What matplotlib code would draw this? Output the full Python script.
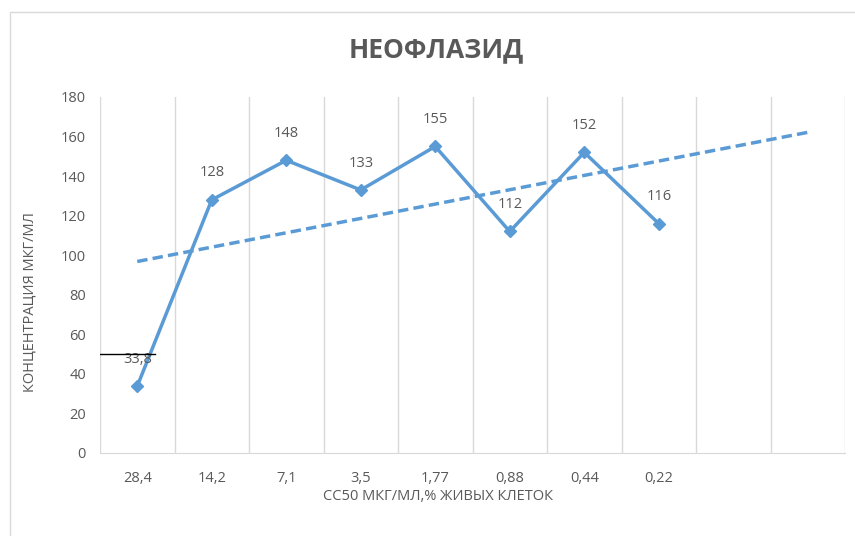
import numpy as np
import matplotlib
matplotlib.use("Agg")
import matplotlib.pyplot as plt
from matplotlib.patches import Rectangle

# data
categories = ["28,4", "14,2", "7,1", "3,5", "1,77", "0,88", "0,44", "0,22", "", ""]
values = [33.8, 128, 148, 133, 155, 112, 152, 116]
labels = ["33,8", "128", "148", "133", "155", "112", "152", "116"]
marker_line_y = 50

blue = "#5B9BD5"
gray = "#595959"

plt.rcParams['font.family'] = ['Open Sans', 'DejaVu Sans']

fig = plt.figure(figsize=(8.55, 5.36), dpi=100)
ax = fig.add_axes([100/855, 83/536, 745/855, 356/536])

# outer chart border
fig.patches.append(Rectangle((10/855, -0.1), 1.1, (524/536) + 0.1, transform=fig.transFigure,
                             fill=False, edgecolor="#D9D9D9", linewidth=1))

x = np.arange(len(values))
ax.plot(x, values, color=blue, linewidth=2.5, marker="D", markersize=6, zorder=3)

# linear trend, forecast two periods forward
k, b = np.polyfit(x, values, 1)
xt = np.arange(len(categories))
ax.plot(xt, k * xt + b, color=blue, linewidth=2.5, linestyle=(0, (3, 1.5)), zorder=2)

for xi, v, lab in zip(x, values, labels):
    ax.annotate(lab, (xi, v), xytext=(0, 14), textcoords="offset points",
                ha="center", va="bottom", fontsize=10.5, color=gray)

# short black line near the first point
ax.plot([-0.5, 0.24], [marker_line_y, marker_line_y], color="black", linewidth=1, zorder=4)

ax.set_xlim(-0.5, len(categories) - 0.5)
ax.set_ylim(0, 180)
ax.set_yticks(range(0, 181, 20))
ax.set_xticks(xt)
ax.set_xticklabels(categories)
for xv in np.arange(-0.5, len(categories), 1):
    ax.axvline(xv, color="#D9D9D9", linewidth=1, zorder=1)

for s in ["top", "right", "left"]:
    ax.spines[s].set_visible(False)
ax.spines["bottom"].set_color("#D9D9D9")
ax.tick_params(axis="both", length=0, colors=gray, labelsize=10.5)
ax.tick_params(axis="x", pad=13)
ax.tick_params(axis="y", pad=10)

fig.text(436/855, 1 - 50/536, "НЕОФЛАЗИД", ha="center", va="center",
         fontsize=19, fontweight="bold", color=gray)
fig.text(30/855, 1 - 302/536, "КОНЦЕНТРАЦИЯ МКГ/МЛ", rotation=90, ha="center", va="center",
         fontsize=10.5, color=gray)
fig.text(438/855, 1 - 497/536, "CC50 МКГ/МЛ,% ЖИВЫХ КЛЕТОК", ha="center", va="center",
         fontsize=10.5, color=gray)

fig.savefig("out.png", dpi=100)
